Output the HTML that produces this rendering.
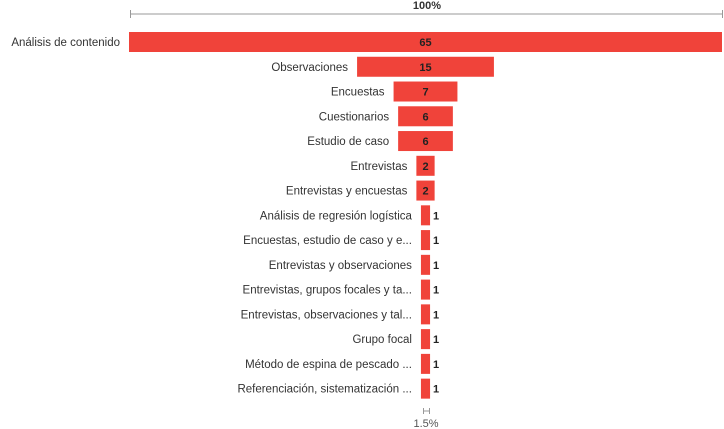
<!DOCTYPE html>
<html><head><meta charset="utf-8"><style>
body{margin:0;background:#fff;}
svg{display:block;font-family:"Liberation Sans",sans-serif;}
</style></head><body>
<svg id="chart" width="724" height="429">
<g id="top">
<line x1="130" y1="14" x2="723" y2="14" stroke="#999" stroke-width="1"/>
<line x1="130.5" y1="10" x2="130.5" y2="18" stroke="#999"/>
<line x1="722.5" y1="10" x2="722.5" y2="18" stroke="#999"/>
<text x="427" y="9" text-anchor="middle" font-size="11" font-weight="bold" fill="#333">100%</text>
</g>
<g id="bars"></g>
<g>
<line x1="423" y1="411" x2="430" y2="411" stroke="#999"/>
<line x1="423.5" y1="408" x2="423.5" y2="414" stroke="#999"/>
<line x1="429.5" y1="408" x2="429.5" y2="414" stroke="#999"/>
<text x="426" y="427" text-anchor="middle" font-size="11" fill="#555">1.5%</text>
</g>
</svg>
<script>
const categories=["Análisis de contenido","Observaciones","Encuestas","Cuestionarios","Estudio de caso","Entrevistas","Entrevistas y encuestas","Análisis de regresión logística","Encuestas, estudio de caso y e...","Entrevistas y observaciones","Entrevistas, grupos focales y ta...","Entrevistas, observaciones y tal...","Grupo focal","Método de espina de pescado ...","Referenciación, sistematización ..."];
const values=[65,15,7,6,6,2,2,1,1,1,1,1,1,1,1];
const maxV=Math.max(...values);
const cx=425.5, fullW=593, y0=42, step=24.76, bh=20;
const xs=v=>v/maxV*fullW;
const g=document.getElementById('bars');
const NS="http://www.w3.org/2000/svg";
values.forEach((v,i)=>{
  const w=xs(v), yc=y0+i*step, left=cx-w/2;
  const r=document.createElementNS(NS,'rect');
  r.setAttribute('x',left);r.setAttribute('y',yc-bh/2);r.setAttribute('width',w);r.setAttribute('height',bh);
  r.setAttribute('fill','#f0433a');
  
  
  g.appendChild(r);
  const l=document.createElementNS(NS,'text');
  let lx=left-9, anchor='end';
  if(lx<120){lx=3;anchor='start';}
  l.setAttribute('x',lx);l.setAttribute('y',yc+4);l.setAttribute('text-anchor',anchor);
  l.setAttribute('font-size','11.5');l.setAttribute('fill','#333');
  l.textContent=categories[i];
  
  
  g.appendChild(l);
  const t=document.createElementNS(NS,'text');
  if(w>15){t.setAttribute('x',cx);t.setAttribute('text-anchor','middle');}
  else{t.setAttribute('x',left+w+3);t.setAttribute('text-anchor','start');}
  t.setAttribute('y',yc+4);t.setAttribute('font-size','11');t.setAttribute('font-weight','bold');t.setAttribute('fill','#222');
  t.textContent=v;
  
  
  g.appendChild(t);
});
</script>
</body></html>
